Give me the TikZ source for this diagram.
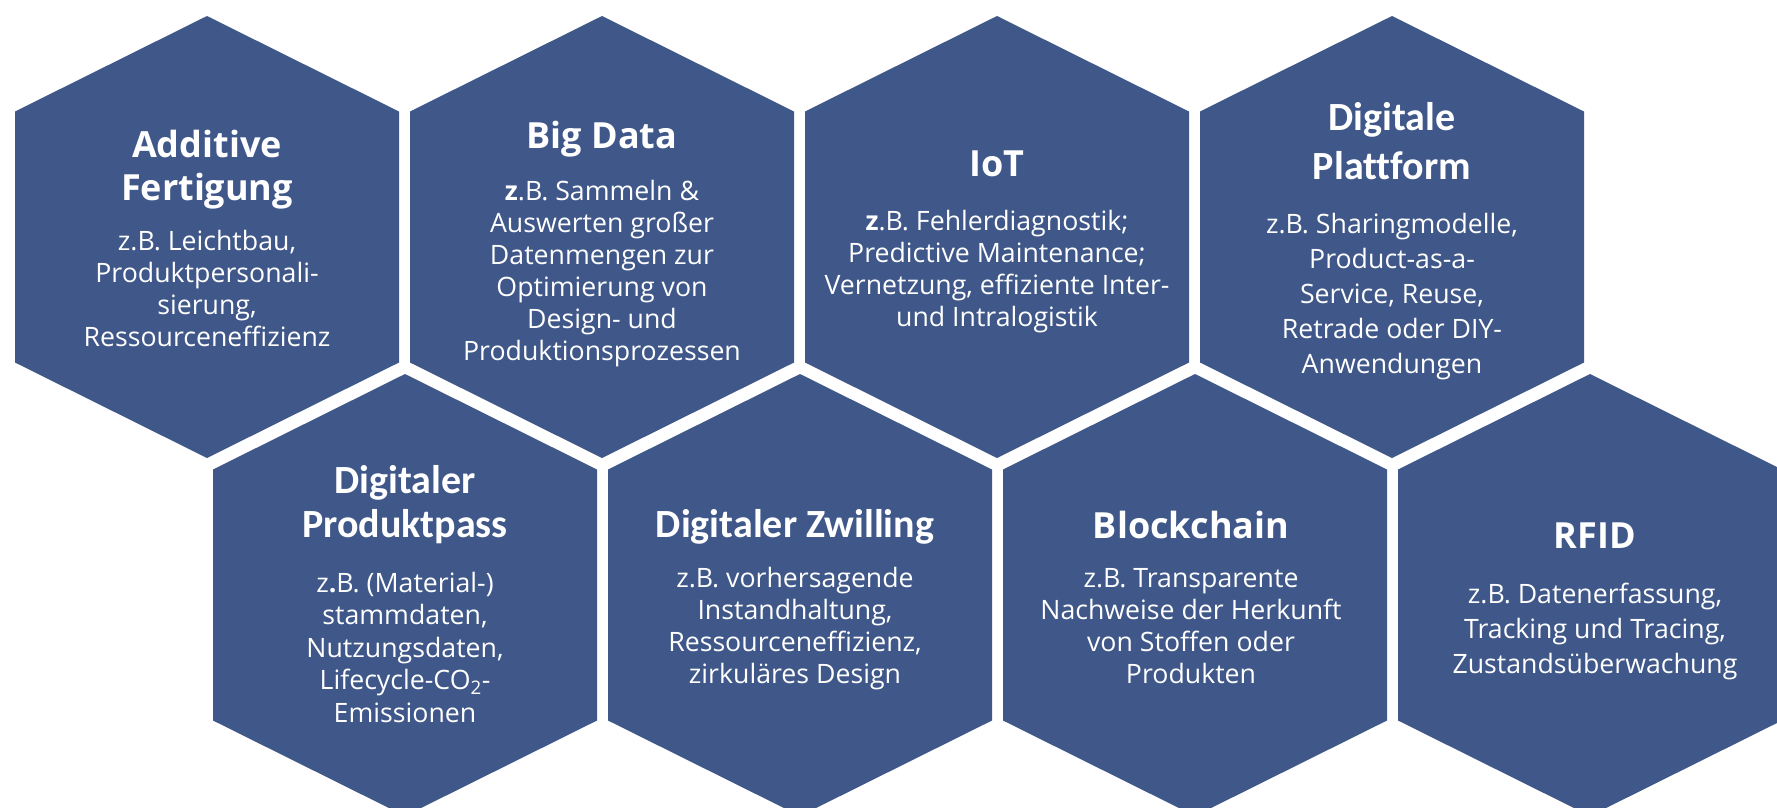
\documentclass[tikz,border=0pt]{standalone}
\usepackage{fontspec}
\setmainfont{Open Sans}
\newfontfamily\carlito[Ligatures=CommonOff]{Carlito}
\usepackage{tikz}

\definecolor{hexblue}{RGB}{63,87,137}

\begin{document}
\begin{tikzpicture}[x=1pt, y=-1pt,
  title/.style={text=white, inner sep=0pt, anchor=base, align=center,
    font=\bfseries\fontsize{36}{43}\selectfont},
  ctitle/.style={title, font=\carlito\bfseries\fontsize{40}{46}\selectfont},
  body/.style={text=white, inner sep=0pt, anchor=base, align=center,
    font=\fontsize{26.7}{32}\selectfont},
  lbody/.style={body, font=\fontsize{26.7}{35}\selectfont}]
  \useasboundingbox (0,0) rectangle (1777,807);
  \clip (0,0) rectangle (1777,807);
  % Define hexagons
  \foreach \cx/\cy in {207/237, 602/237, 997/237, 1392/237,
                       405/595, 800/595, 1195/595, 1590/595}
    \fill[hexblue] (\cx,\cy-221) -- ++(192,95.5) -- ++(0,251) -- ++(-192,95.5)
      -- ++(-192,-95.5) -- ++(0,-251) -- cycle;
  % Define nodes (anchored at the baseline of the last line)
  \node[title] (af) at (207,200) {Additive\\Fertigung};
  \node[body]  (afb) at (207,346) {z.B. Leichtbau,\\Produktpersonali-\\sierung,\\Ressourceneffizienz};
  \node[title] (bd) at (602,148) {Big Data};
  \node[body]  (bdb) at (602,360) {\textbf{z}.B. Sammeln \&\\Auswerten großer\\Datenmengen zur\\Optimierung von\\Design- und\\Produktionsprozessen};
  \node[title] (iot) at (997,176) {IoT};
  \node[body]  (iotb) at (997,326) {\textbf{z}.B. Fehlerdiagnostik;\\Predictive Maintenance;\\Vernetzung, effiziente Inter-\\und Intralogistik};
  \node[ctitle, font=\carlito\bfseries\fontsize{40}{49}\selectfont] (dp) at (1392,179) {Digitale\\Plattform};
  \node[lbody] (dpb) at (1392,373) {z.B. Sharingmodelle,\\Product-as-a-\\Service, Reuse,\\Retrade oder DIY-\\Anwendungen};
  \node[ctitle, font=\carlito\bfseries\fontsize{40}{44}\selectfont] (pp) at (405,537) {Digitaler\\Produktpass};
  \node[body, font=\fontsize{26.7}{32.5}\selectfont] (ppb) at (405,722) {z\textbf{.}B. (Material-)\\stammdaten,\\Nutzungsdaten,\\Lifecycle-CO\textsubscript{2}-\\Emissionen};
  \node[ctitle] (dz) at (795,537) {Digitaler Zwilling};
  \node[body]  (dzb) at (795,683) {z.B. vorhersagende\\Instandhaltung,\\Ressourceneffizienz,\\zirkuläres Design};
  \node[title] (bc) at (1191,538) {Blockchain};
  \node[body]  (bcb) at (1191,683) {z.B. Transparente\\Nachweise der Herkunft\\von Stoffen oder\\Produkten};
  \node[title] (rf) at (1595,548) {RFID};
  \node[lbody] (rfb) at (1595,673) {z.B. Datenerfassung,\\Tracking und Tracing,\\Zustandsüberwachung};
\end{tikzpicture}
\end{document}
